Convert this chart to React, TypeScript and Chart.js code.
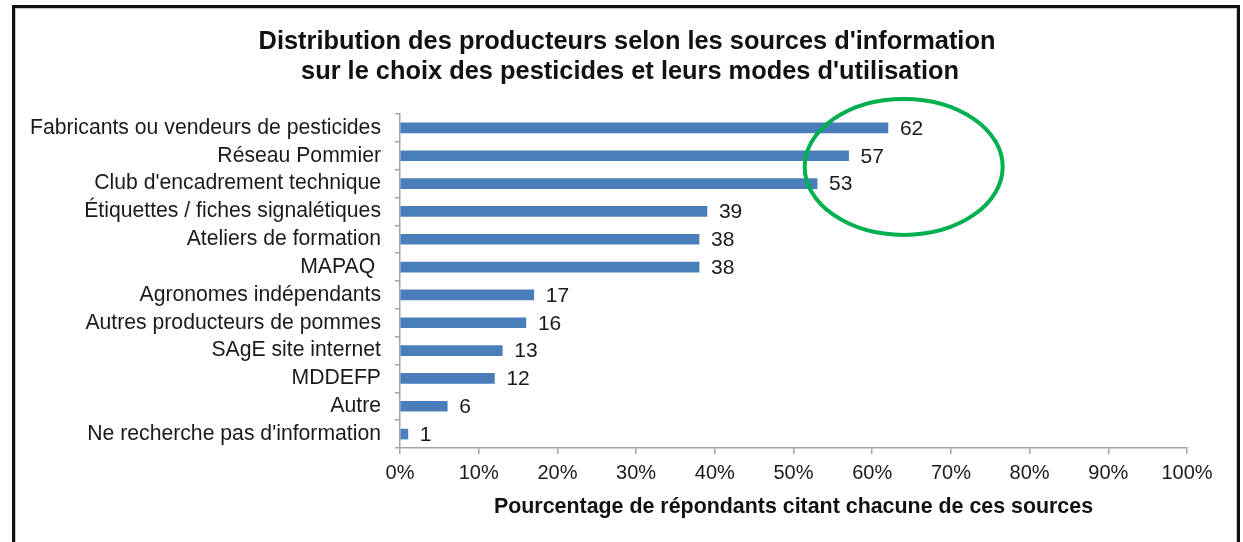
import React, { useEffect, useRef } from "react";
import { Chart, registerables } from "chart.js";

Chart.register(...registerables);

const categories = [
  "Fabricants ou vendeurs de pesticides",
  "Réseau Pommier",
  "Club d'encadrement technique",
  "Étiquettes / fiches signalétiques",
  "Ateliers de formation",
  "MAPAQ ",
  "Agronomes indépendants",
  "Autres producteurs de pommes",
  "SAgE site internet",
  "MDDEFP",
  "Autre",
  "Ne recherche pas d'information",
];

const values = [62, 57, 53, 39, 38, 38, 17, 16, 13, 12, 6, 1];

const titleLines = [
  "Distribution des producteurs selon les sources d'information",
  "sur le choix des pesticides et leurs modes d'utilisation",
];

const xAxisTitle = "Pourcentage de répondants citant chacune de ces sources";

const FONT = "'Liberation Sans', Arial, Helvetica, sans-serif";

export default function App() {
  const ref = useRef<HTMLCanvasElement>(null);

  useEffect(() => {
    const canvas = ref.current;
    if (!canvas) return;

    const framePlugin = {
      id: "frame",
      beforeDraw(chart: any) {
        const ctx = chart.ctx;
        ctx.save();
        ctx.fillStyle = "#ffffff";
        ctx.fillRect(0, 0, chart.width, chart.height);
        ctx.strokeStyle = "#c8c8c8";
        ctx.lineWidth = 1;
        ctx.beginPath();
        ctx.moveTo(15.5, 560);
        ctx.lineTo(15.5, 8.5);
        ctx.lineTo(1236.5, 8.5);
        ctx.lineTo(1236.5, 560);
        ctx.stroke();
        ctx.strokeStyle = "#111111";
        ctx.lineWidth = 3;
        ctx.beginPath();
        ctx.moveTo(13.5, 560);
        ctx.lineTo(13.5, 6.5);
        ctx.lineTo(1238.5, 6.5);
        ctx.lineTo(1238.5, 560);
        ctx.stroke();
        ctx.restore();
      },
      afterDraw(chart: any) {
        const ctx = chart.ctx;
        ctx.save();
        ctx.fillStyle = "#111111";
        ctx.font = `bold 25.4px ${FONT}`;
        ctx.textAlign = "center";
        ctx.textBaseline = "middle";
        ctx.fillText(titleLines[0], 627, 42);
        ctx.fillText(titleLines[1], 630, 72);
        ctx.restore();
      },
    };

    const labelPlugin = {
      id: "valueLabels",
      afterDatasetsDraw(chart: any) {
        const ctx = chart.ctx;
        const meta = chart.getDatasetMeta(0);
        ctx.save();
        ctx.fillStyle = "#1a1a1a";
        ctx.font = `21px ${FONT}`;
        ctx.textAlign = "left";
        ctx.textBaseline = "middle";
        meta.data.forEach((bar: any, i: number) => {
          ctx.fillText(String(values[i]), bar.x + 12, bar.y + 1);
        });
        ctx.restore();
      },
    };

    const ellipsePlugin = {
      id: "ellipse",
      afterDraw(chart: any) {
        const ctx = chart.ctx;
        const xs = chart.scales.x;
        const ys = chart.scales.y;
        const cx = xs.getPixelForValue(64);
        const cy = ys.getPixelForValue(1.4);
        ctx.save();
        ctx.strokeStyle = "#00b050";
        ctx.lineWidth = 4;
        ctx.beginPath();
        ctx.ellipse(cx, cy, 99, 68, 0, 0, Math.PI * 2);
        ctx.stroke();
        ctx.restore();
      },
    };

    const chart = new Chart(canvas, {
      type: "bar",
      data: {
        labels: categories,
        datasets: [
          {
            data: values,
            backgroundColor: "#4a7ebb",
            borderWidth: 0,
            barThickness: 10,
          },
        ],
      },
      options: {
        indexAxis: "y",
        responsive: false,
        animation: false,
        layout: { padding: { left: 0, right: 56, top: 114, bottom: 0 } },
        plugins: {
          legend: { display: false },
          title: { display: false },
          tooltip: { enabled: false },
        },
        scales: {
          x: {
            min: 0,
            max: 100,
            ticks: {
              stepSize: 10,
              callback: (v: any) => `${v}%`,
              color: "#1a1a1a",
              font: { family: FONT, size: 20 },
              padding: 7,
              maxRotation: 0,
            },
            grid: {
              drawOnChartArea: false,
              drawTicks: true,
              tickLength: 6,
              color: "#a6a6a6",
              lineWidth: 1.5,
            },
            border: { color: "#a6a6a6", width: 1.5 },
            title: {
              display: true,
              text: xAxisTitle,
              color: "#111111",
              font: { family: FONT, size: 21.4, weight: "bold" },
              padding: { top: 4, bottom: 22 },
            },
            afterFit: (scale: any) => {
              scale.height = 94;
            },
          },
          y: {
            ticks: {
              color: "#1a1a1a",
              font: { family: FONT, size: 21.2 },
              padding: 14,
              autoSkip: false,
            },
            grid: {
              drawOnChartArea: false,
              drawTicks: true,
              tickLength: 5,
              offset: true,
              color: "#a6a6a6",
              lineWidth: 1.5,
            },
            border: { color: "#a6a6a6", width: 1.5 },
            afterFit: (scale: any) => {
              scale.width = 400;
            },
          },
        },
      },
      plugins: [framePlugin, labelPlugin, ellipsePlugin],
    });

    return () => chart.destroy();
  }, []);

  return (
    <div
      style={{
        position: "fixed",
        left: 0,
        top: 0,
        width: 1243,
        height: 542,
        overflow: "hidden",
        background: "#fff",
      }}
    >
      <canvas ref={ref} width={1243} height={542} style={{ display: "block" }} />
    </div>
  );
}
